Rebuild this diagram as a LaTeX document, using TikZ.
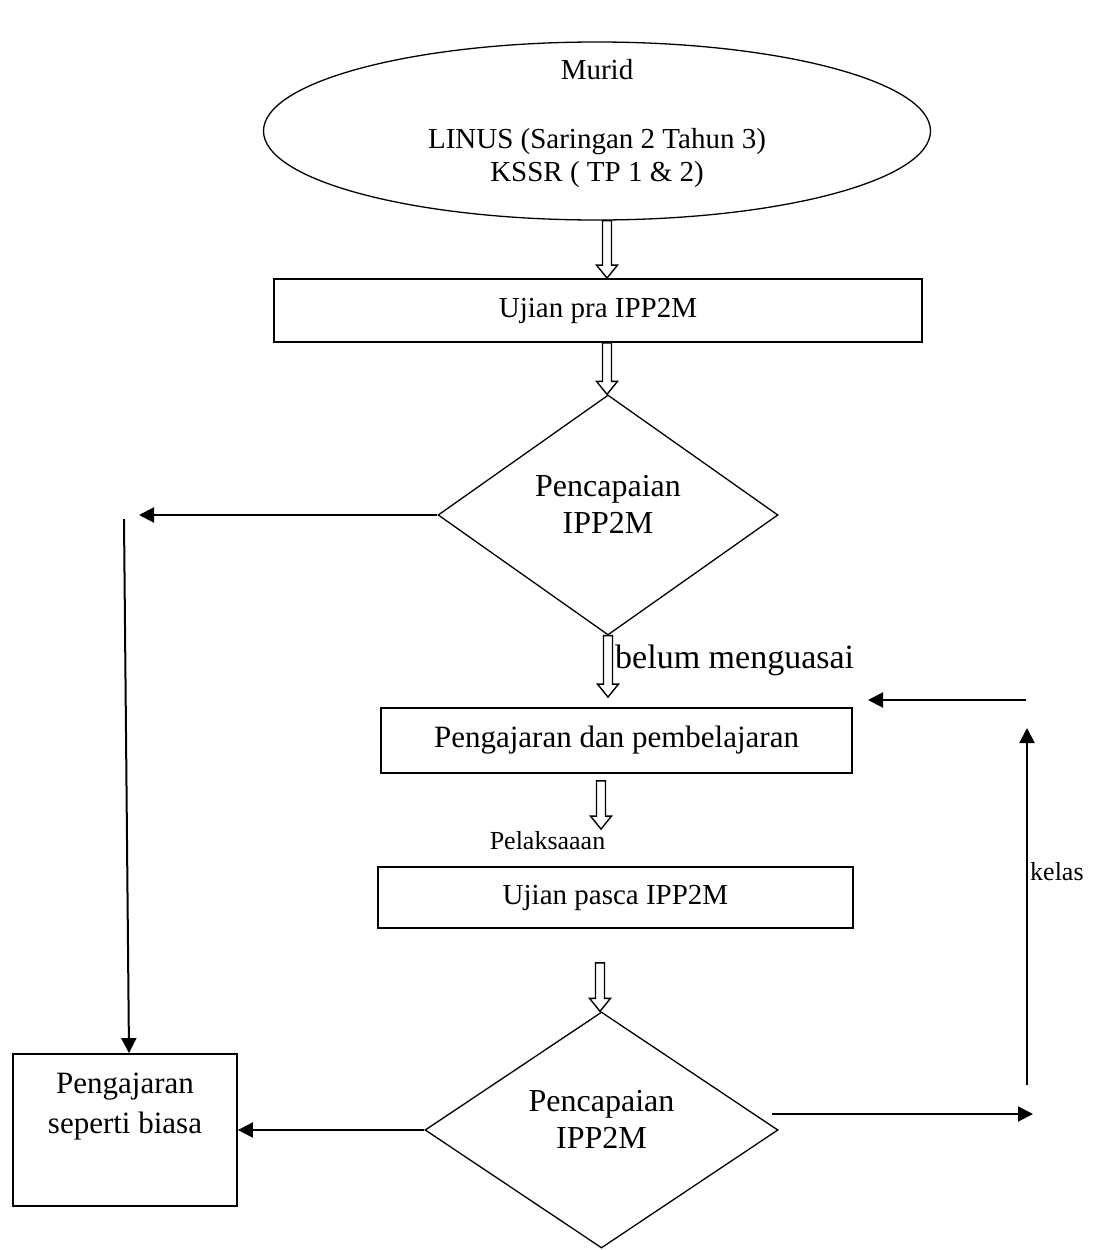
\documentclass[tikz,border=0pt]{standalone}
\usepackage{fontspec}
\setmainfont{Liberation Serif}
\usetikzlibrary{shapes.geometric,arrows.meta,calc}

% anak panah berongga (menegak)
\newcommand\hollowarrow[2]{%
  \draw[hollow] let \p1=(#1), \p2=(#2) in
    (\x1-4.5pt,\y1) -- (\x1-4.5pt,\y2+13pt) -- (\x1-10.5pt,\y2+13pt) -- (\x1,\y2)
    -- (\x1+10.5pt,\y2+13pt) -- (\x1+4.5pt,\y2+13pt) -- (\x1+4.5pt,\y1) -- cycle;}

\begin{document}
\begin{tikzpicture}[x=1pt, y=-1pt,
    box/.style={draw, line width=1.8pt, inner sep=0pt},
    oval/.style={draw, ellipse, line width=1.3pt, inner sep=0pt},
    choice/.style={draw, diamond, line width=1.3pt, inner sep=0pt},
    txt/.style={align=center},
    hollow/.style={draw, fill=white, line width=1.4pt, line join=miter},
    flow/.style={line width=2pt, -{Triangle[width=15pt, length=15pt]}}]
  \useasboundingbox (0,0) rectangle (1093,1250);

  % Nod
  \node[oval, minimum width=667pt, minimum height=178pt,
    label={[txt, font=\fontsize{29}{33}\selectfont, yshift=7pt]center:{Murid\\[36pt]LINUS (Saringan 2 Tahun 3)\\KSSR ( TP 1 \& 2)}}] (murid) at (597,131) {};
  \node[box, minimum width=648pt, minimum height=63pt, font=\fontsize{29}{34}\selectfont] (pra) at (598,310.5) {Ujian pra IPP2M};
  \node[choice, minimum width=340pt, minimum height=240pt,
    label={[txt, font=\fontsize{32}{37}\selectfont, yshift=11pt]center:{Pencapaian\\IPP2M}}] (capai1) at (608,515) {};
  \node[box, minimum width=471pt, minimum height=65pt, font=\fontsize{31}{36}\selectfont] (ajar) at (616.5,740.5) {Pengajaran dan pembelajaran};
  \node[box, minimum width=475pt, minimum height=61pt, font=\fontsize{29}{34}\selectfont] (pasca) at (615.5,897.5) {Ujian pasca IPP2M};
  \node[choice, minimum width=353pt, minimum height=236pt,
    label={[txt, font=\fontsize{32}{37}\selectfont, yshift=11pt]center:{Pencapaian\\IPP2M}}] (capai2) at (601.5,1130) {};
  \node[box, minimum width=224pt, minimum height=152pt,
    label={[txt, font=\fontsize{31}{40}\selectfont, yshift=23pt]center:{Pengajaran\\seperti biasa}}] (biasa) at (125,1130) {};

  % Label
  \node[font=\fontsize{34}{40}\selectfont, anchor=west, inner sep=0pt] (belum) at (615,660) {belum menguasai};
  \node[font=\fontsize{26}{30}\selectfont, inner sep=0pt] (laksana) at (547.5,841) {Pelaksaaan};
  \node[font=\fontsize{26}{30}\selectfont, anchor=west, inner sep=0pt] (kelas) at (1030,872) {kelas};

  \coordinate (kiri) at (139,515);
  \coordinate (turun) at (124,519);
  \coordinate (lepas) at (772,1114);
  \coordinate (kanan) at (1033,1114);
  \coordinate (naik) at (1027,1085);
  \coordinate (atas) at (1027,728);
  \coordinate (balik) at (1026,700);
  \coordinate (masuk) at (868,700);

  % Anak panah
  \hollowarrow{$(murid.south)+(10,0)$}{pra.north}
  \hollowarrow{$(pra.south)+(9,0)$}{capai1.north}
  \hollowarrow{capai1.south}{$(ajar.north)+(0,-10)$}
  \hollowarrow{$(ajar.south)+(-15.5,7)$}{$(pasca.north)+(0,-37)$}
  \hollowarrow{$(pasca.south)+(-15.5,34)$}{capai2.north}

  \draw[flow] (capai1.west) -- (kiri);
  \draw[flow] (turun) -- ($(biasa.north)+(4,0)$);
  \draw[flow] (capai2.west) -- (biasa.east);
  \draw[flow] (lepas) -- (kanan);
  \draw[flow] (naik) -- (atas);
  \draw[flow] (balik) -- (masuk);
\end{tikzpicture}
\end{document}
